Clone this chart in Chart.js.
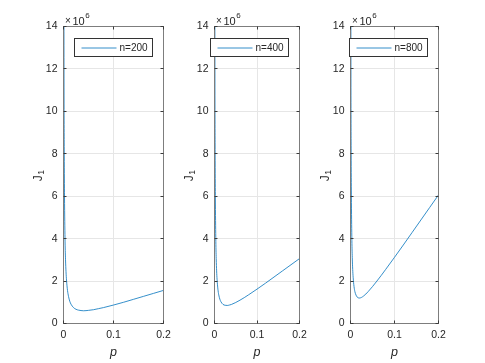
<!DOCTYPE html>
<html><head><meta charset="utf-8">
<script src="https://cdn.jsdelivr.net/npm/chart.js@4"></script>
<style>
html,body{margin:0;padding:0;background:#fff;}
#wrap{position:relative;width:485px;height:363px;overflow:hidden;background:#fff;}
canvas{position:absolute;left:0;top:0;}
</style></head><body>
<div id="wrap">
<canvas id="c1" width="485" height="363"></canvas>
<canvas id="c2" width="485" height="363"></canvas>
<canvas id="c3" width="485" height="363"></canvas>
</div>
<script>
// ---- data (J in units of 1e6) ----
const pValues = [0.0005,0.001,0.0015,0.002,0.003,0.004,0.005,0.006,0.008,0.01,0.0125,0.015,0.02,0.025,0.03,0.035,0.04,0.05,0.06,0.07,0.08,0.1,0.12,0.14,0.16,0.18,0.2];
const J200 = [24.0,12.0,8.0,6.0,4.02,3.03,2.44,2.05,1.56,1.28,1.05,0.91,0.75,0.67,0.63,0.61,0.60,0.62,0.65,0.70,0.75,0.87,1.00,1.14,1.28,1.42,1.56];
const J400 = [24.0,12.0,8.02,6.03,4.05,3.06,2.48,2.09,1.62,1.35,1.15,1.03,0.90,0.86,0.85,0.87,0.90,0.99,1.10,1.22,1.35,1.62,1.90,2.19,2.48,2.77,3.06];
const J800 = [24.0,12.03,8.05,6.06,4.09,3.12,2.55,2.18,1.74,1.50,1.34,1.25,1.20,1.23,1.30,1.39,1.50,1.74,2.00,2.27,2.55,3.12,3.70,4.29,4.88,5.47,6.06];
const seriesLabels = ['n=200','n=400','n=800'];
const xTicks = [0,0.1,0.2];
const yTicks = [0,2,4,6,8,10,12,14];
const xLabel = 'p';
const yLabelMain = 'J';
const yLabelSub = '1';
const exponentBase = '\u00d710';
const exponentPow = '6';

const FONT = '"Liberation Sans", Arial, Helvetica, sans-serif';
const TXT = '#262626';
const LINE = '#0072BD';

const panels = [
  {id:'c1', left:63.5, right:163.5, data:J200, label:seriesLabels[0]},
  {id:'c2', left:214.5, right:299.5, data:J400, label:seriesLabels[1]},
  {id:'c3', left:350.5, right:438.5, data:J800, label:seriesLabels[2]},
];
const TOP = 26.5, BOTTOM = 323.5, W = 485, H = 363;
const YAXW = 40, XAXH = 30;

function al(v){ return Math.floor(v) + 0.5; }

const decor = {
  id:'decor',
  afterDraw(chart){
    const {ctx, chartArea:a, scales:{x, y}} = chart;
    ctx.save();
    ctx.strokeStyle = '#7d7d7d';
    ctx.lineWidth = 1;
    ctx.strokeRect(a.left, a.top, a.right - a.left, a.bottom - a.top);
    ctx.strokeStyle = '#3a3a3a';
    ctx.beginPath();
    const tl = 3;
    yTicks.forEach(v => {
      const py = al(y.getPixelForValue(v));
      ctx.moveTo(a.left, py); ctx.lineTo(a.left + tl, py);
      ctx.moveTo(a.right, py); ctx.lineTo(a.right - tl, py);
    });
    xTicks.forEach(v => {
      const px = al(x.getPixelForValue(v));
      ctx.moveTo(px, a.bottom); ctx.lineTo(px, a.bottom - tl);
      ctx.moveTo(px, a.top); ctx.lineTo(px, a.top + tl);
    });
    ctx.stroke();

    // exponent label  x10^6
    ctx.fillStyle = TXT;
    ctx.textBaseline = 'alphabetic';
    ctx.textAlign = 'left';
    ctx.font = '10px ' + FONT;
    const ex = a.left + 1.5;
    ctx.fillText('\u00d7', ex, 24);
    ctx.font = '11px ' + FONT;
    ctx.fillText('10', ex + 7.5, 24.5);
    const w10 = ctx.measureText('10').width;
    ctx.font = '8px ' + FONT;
    ctx.fillText(exponentPow, ex + 7.5 + w10 + 0.5, 18);

    // y label J_1 (rotated)
    ctx.save();
    ctx.translate(a.left - 22, (a.top + a.bottom) / 2 + 1);
    ctx.rotate(-Math.PI / 2);
    ctx.font = '12px ' + FONT;
    const wj = ctx.measureText(yLabelMain).width;
    ctx.font = '8.5px ' + FONT;
    const ws = ctx.measureText(yLabelSub).width;
    const start = -(wj + ws) / 2;
    ctx.font = '12px ' + FONT;
    ctx.fillText(yLabelMain, start, 0);
    ctx.font = '8.5px ' + FONT;
    ctx.fillText(yLabelSub, start + wj + 0.5, 2.5);
    ctx.restore();

    // x label
    ctx.font = 'italic 12.5px ' + FONT;
    ctx.textAlign = 'center';
    ctx.fillText(xLabel, (a.left + a.right) / 2, 355.5);

    // legend box (northeast)
    const ds = chart.data.datasets[0];
    const bw = 78, bh = 18;
    const bx = Math.round(a.right - 11.5 - bw) + 0.5;
    const by = 38.5;
    ctx.fillStyle = '#ffffff';
    ctx.fillRect(bx, by, bw, bh);
    ctx.strokeStyle = '#333333';
    ctx.strokeRect(bx, by, bw, bh);
    ctx.strokeStyle = ds.borderColor;
    ctx.lineWidth = 0.8;
    ctx.beginPath();
    ctx.moveTo(bx + 7, by + 9.5);
    ctx.lineTo(bx + 42, by + 9.5);
    ctx.stroke();
    ctx.fillStyle = TXT;
    ctx.font = '10px ' + FONT;
    ctx.textAlign = 'left';
    ctx.textBaseline = 'middle';
    ctx.fillText(ds.label, bx + 45, by + 9.5);
    ctx.restore();
  }
};

panels.forEach(pn => {
  const pts = pValues.map((p, i) => ({x: p, y: pn.data[i]}));
  new Chart(document.getElementById(pn.id), {
    type: 'line',
    data: { datasets: [{
      label: pn.label,
      data: pts,
      borderColor: LINE,
      backgroundColor: LINE,
      borderWidth: 0.8,
      pointRadius: 0,
      fill: false,
      cubicInterpolationMode: 'monotone'
    }]},
    options: {
      responsive: false,
      animation: false,
      devicePixelRatio: 1,
      events: [],
      layout: { padding: { left: pn.left - YAXW, right: W - pn.right, top: TOP, bottom: H - BOTTOM - XAXH } },
      plugins: { legend: { display: false }, tooltip: { enabled: false } },
      scales: {
        x: {
          type: 'linear', min: 0, max: 0.2,
          afterBuildTicks: s => { s.ticks = xTicks.map(v => ({value: v})); },
          afterFit: s => { s.height = XAXH; },
          grid: { color: '#e6e6e6', drawTicks: false, lineWidth: 1 },
          border: { display: false },
          ticks: { color: TXT, font: { family: FONT, size: 10.5 }, padding: 5, maxRotation: 0, autoSkip: false,
                   callback: v => String(v) }
        },
        y: {
          type: 'linear', min: 0, max: 14,
          afterBuildTicks: s => { s.ticks = yTicks.map(v => ({value: v})); },
          afterFit: s => { s.width = YAXW; },
          grid: { color: '#e6e6e6', drawTicks: false, lineWidth: 1 },
          border: { display: false },
          ticks: { color: TXT, font: { family: FONT, size: 10.5 }, padding: 6, autoSkip: false,
                   callback: v => String(v) }
        }
      }
    },
    plugins: [decor]
  });
});
</script>
</body></html>
